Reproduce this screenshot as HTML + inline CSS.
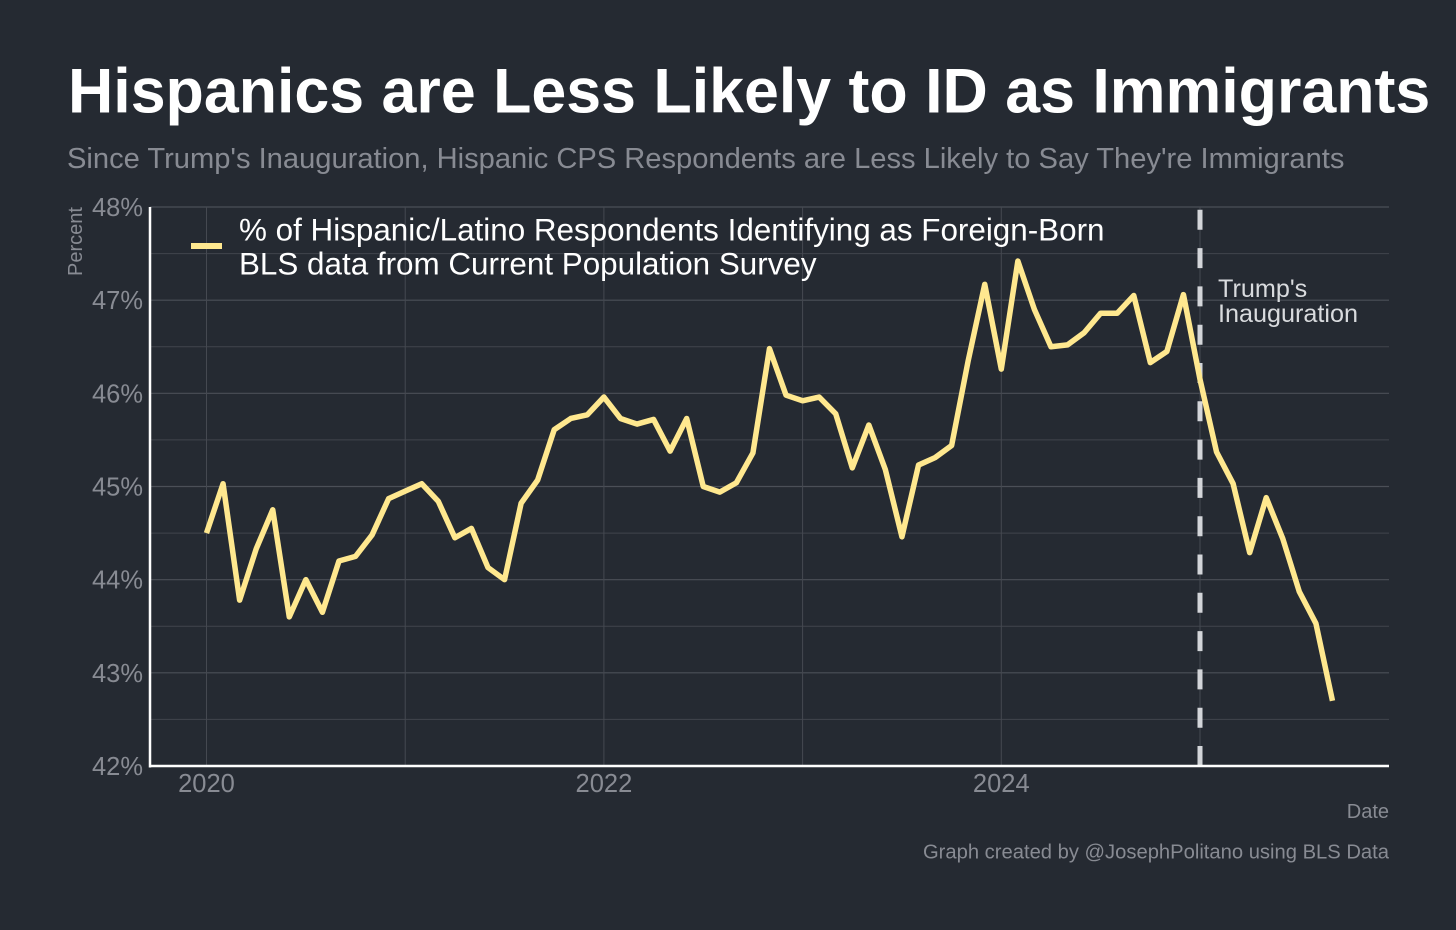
<!DOCTYPE html>
<html lang="en">
<head>
<meta charset="utf-8">
<title>Hispanics are Less Likely to ID as Immigrants</title>
<style>
html,body{margin:0;padding:0;background:#252a32;}
svg{display:block;font-family:"Liberation Sans",Arial,sans-serif;}
</style>
</head>
<body>
<svg id="chart" xmlns="http://www.w3.org/2000/svg" width="1456" height="930" viewBox="0 0 1456 930">
<rect x="0" y="0" width="1456" height="930" fill="#252a32"/>
<text x="68" y="112.5" font-size="62.7" font-weight="700" fill="#ffffff">Hispanics are Less Likely to ID as Immigrants</text>
<text x="67" y="168" font-size="29.12" fill="#888b93">Since Trump's Inauguration, Hispanic CPS Respondents are Less Likely to Say They're Immigrants</text>
<g id="grid"></g>
<g id="vline"></g>
<g id="series"></g>
<g id="axes"></g>
<g id="ylabels"></g>
<g id="xlabels"></g>
<text transform="translate(82,276) rotate(-90)" font-size="20" fill="#888b93">Percent</text>
<text x="1389" y="818" text-anchor="end" font-size="20" fill="#888b93">Date</text>
<text x="1389" y="858.5" text-anchor="end" font-size="20.2" fill="#888b93">Graph created by @JosephPolitano using BLS Data</text>
<rect x="191" y="243" width="31" height="6" fill="#ffe88f"/>
<text x="239" y="240.5" font-size="31.4" fill="#ffffff">% of Hispanic/Latino Respondents Identifying as Foreign-Born</text>
<text x="239" y="274.5" font-size="31.4" fill="#ffffff">BLS data from Current Population Survey</text>
<text x="1218" y="297" font-size="25.2" fill="#d9dbde">Trump's</text>
<text x="1218" y="322" font-size="25.2" fill="#d9dbde">Inauguration</text>
</svg>
<script>
const startYear = 2020;
const seriesValues = [
  44.50,45.03,43.78,44.33,44.75,43.60,44.00,43.65,44.20,44.25,44.48,44.87,
  44.95,45.03,44.84,44.45,44.55,44.13,44.00,44.82,45.07,45.61,45.73,45.77,
  45.96,45.73,45.67,45.72,45.38,45.73,45.00,44.94,45.04,45.36,46.48,45.98,
  45.92,45.96,45.78,45.20,45.66,45.18,44.46,45.23,45.31,45.44,46.35,47.17,
  46.26,47.42,46.90,46.50,46.52,46.65,46.86,46.86,47.05,46.33,46.45,47.06,
  46.15,45.37,45.03,44.29,44.88,44.44,43.87,43.53,42.70
];
const yMajorTicks = [42,43,44,45,46,47,48];
const yMinorTicks = [42.5,43.5,44.5,45.5,46.5,47.5];
const xLabelYears = [2020,2022,2024];
const xMinorYears = [2021,2023,2025];
const markerYear = [2025];

const NS = 'http://www.w3.org/2000/svg';
const plotLeft = 150, plotRight = 1389, plotTop = 207, plotBottom = 766;
function xScale(year){ return 206.5 + (year - 2020) * 198.7; }
function yScale(v){ return plotBottom - (v - 42) * (plotBottom - plotTop) / 6; }
function make(tag, attrs, parent){
  const el = document.createElementNS(NS, tag);
  for (const k in attrs) el.setAttribute(k, attrs[k]);
  parent.appendChild(el);
  return el;
}
const grid = document.getElementById('grid');
yMajorTicks.forEach(function(t){
  const el = make('line',{x1:plotLeft,x2:plotRight,y1:yScale(t),y2:yScale(t),stroke:'#4b4f57','stroke-width':1.2},grid);
  
  
});
yMinorTicks.forEach(function(t){
  const el = make('line',{x1:plotLeft,x2:plotRight,y1:yScale(t),y2:yScale(t),stroke:'#41454d','stroke-width':1},grid);
  
  
});
xLabelYears.concat(xMinorYears).forEach(function(y){
  const el = make('line',{x1:xScale(y),x2:xScale(y),y1:plotTop,y2:plotBottom,stroke:'#454951','stroke-width':1},grid);
  
  
});
const vline = document.getElementById('vline');
const mx = xScale(markerYear[0]);
const dashLine = make('line',{x1:mx,x2:mx,y1:plotBottom,y2:plotTop,stroke:'#d3d5d9','stroke-width':5,'stroke-dasharray':'20 18.3'},vline);



const seriesGroup = document.getElementById('series');
const pts = seriesValues.map(function(v,i){
  return xScale(startYear + i/12).toFixed(2) + ',' + yScale(v).toFixed(2);
}).join(' ');
const poly = make('polyline',{points:pts,fill:'none',stroke:'#ffe88f','stroke-width':5.5,'stroke-linejoin':'round','stroke-linecap':'butt'},seriesGroup);



const axes = document.getElementById('axes');
const yAxis = make('line',{x1:plotLeft,x2:plotLeft,y1:plotTop,y2:plotBottom+1.5,stroke:'#ffffff','stroke-width':2.5},axes);


const xAxis = make('line',{x1:plotLeft,x2:plotRight,y1:plotBottom,y2:plotBottom,stroke:'#ffffff','stroke-width':2.5},axes);



const yl = document.getElementById('ylabels');
yMajorTicks.forEach(function(t){
  const el = make('text',{x:143,y:yScale(t)+9,'text-anchor':'end','font-size':25.5,fill:'#888b93'},yl);
  
  
  el.textContent = t + '%';
});
const xl = document.getElementById('xlabels');
xLabelYears.forEach(function(y){
  const el = make('text',{x:xScale(y),y:792,'text-anchor':'middle','font-size':25.5,fill:'#888b93'},xl);
  
  
  el.textContent = y;
});
</script>
</body>
</html>
